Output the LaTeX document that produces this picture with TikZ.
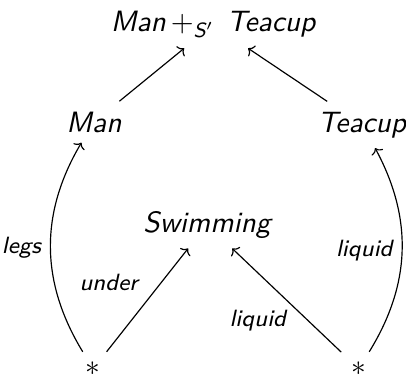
\documentclass[tikz,border=0pt]{standalone}
\usepackage{amsmath}
\usetikzlibrary{arrows.meta}
\tikzset{
  obj/.style={font=\sffamily\itshape,inner sep=3.33pt},
  lbl/.style={font=\sffamily\itshape\footnotesize,inner sep=3pt},
  arr/.style={-{To[length=1.8pt,width=4.4pt]},line width=0.4pt}
}
\begin{document}
\begin{tikzpicture}[x=0.34pt,y=0.34pt]
  \useasboundingbox (0,0) rectangle (406,377);
  \node[obj,anchor=base] (sum) at (213,345) {Man\,$+_{\textit{S}'}$\hspace{4pt}Teacup};
  \node[obj,anchor=base] (man) at (94,245) {Man};
  \node[obj,anchor=base] (tea) at (362,245) {Teacup};
  \node[obj,anchor=base] (swim) at (207,145) {Swimming};
  \node (s1) at (93,8) {$*$};
  \node (s2) at (359,8) {$*$};
  \draw[arr] (man) -- (sum);
  \draw[arr] (tea) -- (sum);
  \draw[arr] (s1) to[bend left=31] node[lbl,left] {legs} (man);
  \draw[arr] (s1) -- node[lbl,above left] {under} (swim);
  \draw[arr] (s2) -- node[lbl,pos=0.5,below left,xshift=3pt] {liquid} (swim);
  \draw[arr] (s2) to[bend right=30] node[lbl,left] {liquid} (tea);
\end{tikzpicture}
\end{document}
